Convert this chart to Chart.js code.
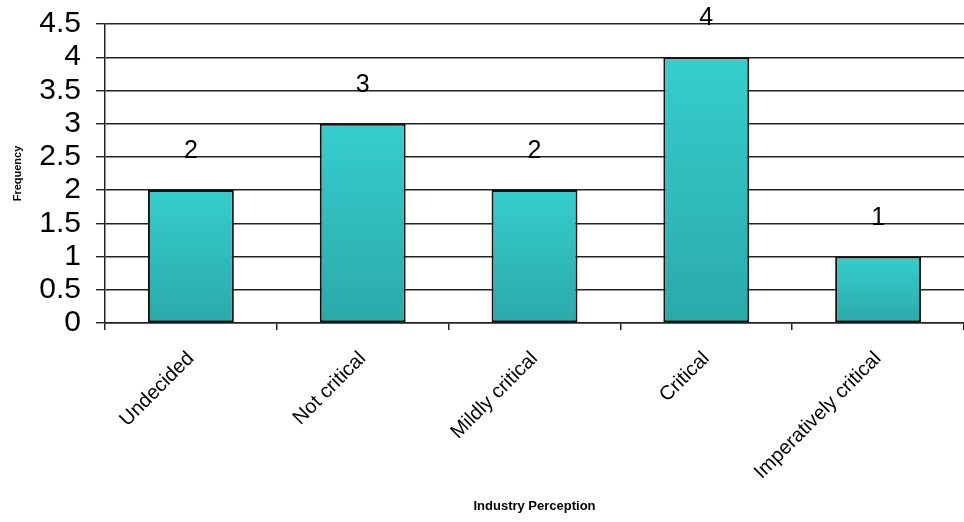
<!DOCTYPE html>
<html>
<head>
<meta charset="utf-8">
<script src="https://cdn.jsdelivr.net/npm/chart.js@4"></script>
<style>
html,body{margin:0;padding:0;background:#fff;}
#wrap{width:964px;height:522px;position:relative;}
</style>
</head>
<body>
<div id="wrap"><canvas id="c" width="964" height="522"></canvas></div>
<script>
const categories = ["Undecided", "Not critical", "Mildly critical", "Critical", "Imperatively critical"];
const frequency = [2, 3, 2, 4, 1];
const yTicks = [0, 0.5, 1, 1.5, 2, 2.5, 3, 3.5, 4, 4.5];

const FONT = "'Liberation Sans', Arial, sans-serif";

function barGradient(ctx) {
  const chart = ctx.chart;
  const ys = chart.scales && chart.scales.y;
  if (!chart.chartArea || !ys || ctx.parsed === undefined) return '#30C0C0';
  const top = ys.getPixelForValue(ctx.parsed.y);
  const bottom = ys.getPixelForValue(0);
  if (!isFinite(top) || !isFinite(bottom) || top === bottom) return '#30C0C0';
  const g = chart.ctx.createLinearGradient(0, top, 0, bottom);
  g.addColorStop(0, '#35CECD');
  g.addColorStop(1, '#2BA9A9');
  return g;
}

const valueLabels = {
  id: 'valueLabels',
  afterDatasetsDraw(chart) {
    const ctx = chart.ctx;
    const meta = chart.getDatasetMeta(0);
    ctx.save();
    ctx.font = "25px " + FONT;
    ctx.fillStyle = '#000';
    ctx.textAlign = 'center';
    ctx.textBaseline = 'alphabetic';
    meta.data.forEach((bar, i) => {
      ctx.fillText(String(frequency[i]), bar.x, bar.y - 32);
    });
    ctx.restore();
  }
};

new Chart(document.getElementById('c'), {
  type: 'bar',
  data: {
    labels: categories,
    datasets: [{
      data: frequency,
      backgroundColor: barGradient,
      borderColor: '#111',
      borderWidth: 2,
      borderSkipped: false,
      barPercentage: 0.5,
      categoryPercentage: 1.0
    }]
  },
  options: {
    responsive: false,
    animation: false,
    devicePixelRatio: 1,
    layout: { padding: { top: 24, right: 0, bottom: 0, left: 0 } },
    plugins: { legend: { display: false }, tooltip: { enabled: false } },
    scales: {
      y: {
        min: 0, max: 4.5,
        afterBuildTicks(scale) { scale.ticks = yTicks.map(v => ({ value: v })); },
        afterFit(scale) { scale.width = 105; scale.paddingTop = 0; scale.paddingBottom = 0; },
        ticks: {
          font: { family: FONT, size: 30 },
          color: '#000',
          padding: 15,
          autoSkip: false,
          callback: v => String(v)
        },
        grid: { color: '#222', lineWidth: 1.4, tickLength: 9, drawTicks: true },
        border: { display: true, color: '#222', width: 1.5 },
        title: {
          display: true, text: 'Frequency',
          font: { family: FONT, size: 11, weight: 'bold' },
          color: '#000', padding: { top: 11, bottom: 0 }
        }
      },
      x: {
        afterFit(scale) { scale.height = 199; scale.paddingLeft = 0; scale.paddingRight = 0; },
        grid: { offset: true, drawOnChartArea: false, drawTicks: true, tickLength: 7, color: '#222', lineWidth: 1.5 },
        border: { display: true, color: '#222', width: 1.5 },
        ticks: {
          font: { family: FONT, size: 20 },
          color: '#000',
          maxRotation: 45, minRotation: 45,
          padding: 17,
          autoSkip: false
        },
        title: {
          display: true, text: 'Industry Perception',
          font: { family: FONT, size: 13, weight: 'bold' },
          color: '#000', padding: { top: 0, bottom: 8 }
        }
      }
    }
  },
  plugins: [valueLabels]
});
</script>
</body>
</html>
